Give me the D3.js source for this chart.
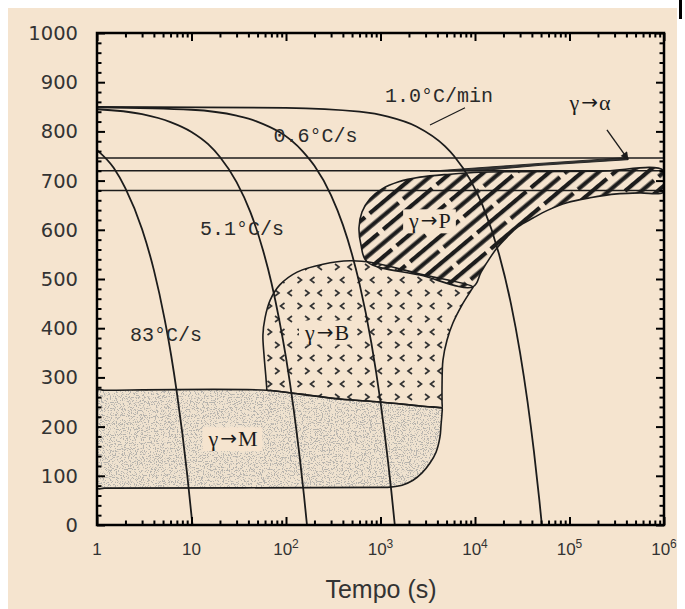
<!DOCTYPE html>
<html>
<head>
<meta charset="utf-8">
<script src="https://cdnjs.cloudflare.com/ajax/libs/d3/7.8.5/d3.min.js"></script>
<style>
  body { margin: 0; background: #fff; }
  svg { display: block; }
</style>
</head>
<body>
<svg width="685" height="609"></svg>
<script>
// cooling curves: [time s, temperature C]
var curve83 = [[1,762],[1.5,726],[2,684],[3,601],[4,518],[5.2,418],[6.1,344],[7,269],[8,186],[9,103],[10.24,0]];
var curve51 = [[1,845],[3,835],[6,819],[10,799],[15,774],[20,748],[30,697],[42,636],[57,559],[70,493],[85,416],[100,340],[120,238],[140,136],[155,60],[166.7,0]];
var curve06 = [[1,849],[10,844],[30,832],[48,821],[151,759],[200,730],[300,670],[400,610],[500,550],[600,490],[800,370],[1000,250],[1200,130],[1300,70],[1417,0]];
var curve1min = [[1,850],[100,848],[600,840],[1200,830],[2400,810],[4800,770],[6000,750],[9000,700],[12000,650],[18000,550],[24000,450],[30000,350],[36000,250],[42000,150],[48000,50],[51000,0]];
// time ranges hidden behind the labels
var labelGaps = [[5.2,6.1],[42,57],[48,151],null];

var curveNames = ["83°C/s","5.1°C/s","0.6°C/s","1.0°C/min"];
var curveLabelPos = [[5.37,374],[34.2,589],[205,779],[4160,860]];

// critical temperatures
var critTemps = [746, 720, 680];

// transformation regions
var regionM = [[1,274],[1.2,274],[63,274],[141,266],[373,256],[988,250],[2620,242],[4350,238.5],[4480,238],[4470,226],[4370,203],[4260,179],[3870,148],[3340,126],[2750,106],[2210,91],[1690,81],[1260,77],[1000,76.5],[1.2,75],[1,75]];
var regionB = [[9520,484],[2620,510],[834,533],[476,537],[246,530],[131,514],[86,488],[68,457],[60,421],[57,386],[58.5,346],[61,305],[62.5,280],[63,274],[70,273.5],[141,266],[373,256],[988,250],[2620,242],[4400,238.2],[4480,238],[4480,250],[4480,285],[4580,335],[5060,376],[5850,411],[7280,447],[9300,480]];
var regionP = [[720,535],[622,569],[592,604],[637,636],[774,663],[1040,683],[1530,697],[2620,707],[5440,713],[11300,717],[29900,718],[210000,719],[1e6,720],[1e6,677],[557000,675],[318000,673],[165000,665],[94100,655],[59200,640],[41100,624],[28500,606],[21800,585],[17100,563],[14400,543],[11600,514],[9520,484],[2620,508]];
var regionA = [[3340,719],[48700,735],[416000,747],[416000,742.5],[48700,731],[11300,720]];

var regionSymbols = ["M","B","P","α"];
var regionLabelPos = [[27.5,160],[272,377],[3340,603],[165000,843]];

var leader1min = [[3340,813],[7840,848]];
var arrowA = [[249000,803],[416000,743]];

var xTicks = [1,10,100,1e3,1e4,1e5,1e6];
var xTickBase = ["1","10","10","10","10","10","10"];
var xTickExp = ["","","2","3","4","5","6"];
var yTicks = [0,100,200,300,400,500,600,700,800,900,1000];

var bg = "#f5e4cf";
var ink = "#1c1c1c";

var svg = d3.select("svg");
var x = d3.scaleLog().domain([1,1e6]).range([97,664]);
var y = d3.scaleLinear().domain([0,1000]).range([525,33]);

svg.append("rect").attr("width",685).attr("height",609).attr("fill","#fff");
svg.append("rect").attr("x",8).attr("y",8).attr("width",669).attr("height",601).attr("fill",bg);
svg.append("rect").attr("x",679).attr("y",0).attr("width",3).attr("height",19).attr("fill","#000");

var defs = svg.append("defs");
defs.append("clipPath").attr("id","plotclip")
  .append("rect").attr("x",97).attr("y",33).attr("width",567).attr("height",492);

// hatch for pearlite
var hatch = defs.append("pattern").attr("id","hatch").attr("patternUnits","userSpaceOnUse")
  .attr("width",21).attr("height",70).attr("patternTransform","rotate(50)");
hatch.append("rect").attr("x",0).attr("y",0).attr("width",4.2).attr("height",64).attr("fill",ink);
hatch.append("rect").attr("x",10.5).attr("y",35).attr("width",4.2).attr("height",64).attr("fill",ink);
hatch.append("rect").attr("x",10.5).attr("y",-35).attr("width",4.2).attr("height",64).attr("fill",ink);

// chevrons for bainite
var chev = defs.append("pattern").attr("id","chev").attr("patternUnits","userSpaceOnUse")
  .attr("width",30).attr("height",26).attr("x",3).attr("y",2);
var chevPaths = ["M2,2 L6,5 L2,8","M19,2 L15,5 L19,8","M11.5,15 L7.5,18 L11.5,21","M24.5,15 L28.5,18 L24.5,21"];
chev.selectAll("path").data(chevPaths).enter().append("path")
  .attr("d",function(d){return d})
  .attr("fill","none").attr("stroke","#333").attr("stroke-width",1.7);

// stipple for martensite
var stip = defs.append("filter").attr("id","stip")
  .attr("x",0).attr("y",0).attr("width",1).attr("height",1);
stip.append("feTurbulence").attr("type","fractalNoise").attr("baseFrequency",0.85)
  .attr("numOctaves",2).attr("seed",5).attr("result","n");
stip.append("feColorMatrix").attr("type","matrix")
  .attr("values","0 0 0 0 0.47  0 0 0 0 0.45  0 0 0 0 0.42  13 0 0 0 -7.1");

var line = d3.line().x(function(d){return x(d[0])}).y(function(d){return y(d[1])});
var region = d3.line().x(function(d){return x(d[0])}).y(function(d){return y(d[1])})
  .curve(d3.curveCatmullRomClosed.alpha(0.5));

defs.append("clipPath").attr("id","mclip").append("path").attr("d",region(regionM));

var plot = svg.append("g").attr("clip-path","url(#plotclip)");

plot.append("path").attr("d",region(regionM)).attr("fill","#efe2cf");
plot.append("g").attr("clip-path","url(#mclip)")
  .append("rect").attr("x",97).attr("y",33).attr("width",567).attr("height",492)
  .attr("fill","#000").attr("filter","url(#stip)");
plot.append("path").attr("d",region(regionB)).attr("fill","url(#chev)");
plot.append("path").attr("d",region(regionP)).attr("fill","url(#hatch)");

// region labels with cleared background
regionSymbols.forEach(function(sym, i){
  var g = plot.append("g");
  var t = g.append("text")
    .attr("x", x(regionLabelPos[i][0])).attr("y", y(regionLabelPos[i][1]))
    .attr("text-anchor","middle")
    .attr("font-family","'Liberation Serif','DejaVu Serif',serif")
    .attr("font-size",22).attr("fill",ink);
  t.append("tspan").text("γ");
  t.append("tspan").attr("font-family","'DejaVu Sans',sans-serif").attr("font-size",20)
    .attr("dx",2).attr("dy",-1).text("→");
  t.append("tspan").attr("dx",1).attr("dy",1).text(sym);
  if (i < 3) {
    var b = t.node().getBBox();
    g.insert("rect","text").attr("x",b.x-5).attr("y",b.y+1)
      .attr("width",b.width+10).attr("height",b.height-1).attr("fill",bg);
  }
});

[regionM, regionB, regionP].forEach(function(r){
  plot.append("path").attr("d",region(r)).attr("fill","none")
    .attr("stroke",ink).attr("stroke-width",1.6);
});
plot.append("path").attr("d",d3.line().x(function(d){return x(d[0])}).y(function(d){return y(d[1])}).curve(d3.curveLinearClosed)(regionA))
  .attr("fill","#333").attr("stroke",ink).attr("stroke-width",0.9);

plot.selectAll(".crit").data(critTemps).enter().append("line")
  .attr("x1",97).attr("x2",664)
  .attr("y1",function(d){return y(d)}).attr("y2",function(d){return y(d)})
  .attr("stroke",ink).attr("stroke-width",1.6);

var curveLine = d3.line().x(function(d){return x(d[0])}).y(function(d){return y(d[1])})
  .curve(d3.curveMonotoneX);
[curve83, curve51, curve06, curve1min].forEach(function(c, i){
  var gap = labelGaps[i];
  curveLine.defined(function(d){ return !gap || d[0] <= gap[0] || d[0] >= gap[1]; });
  plot.append("path").attr("d",curveLine(c)).attr("fill","none")
    .attr("stroke",ink).attr("stroke-width",1.8);
});

plot.append("path").attr("d",line(leader1min)).attr("stroke",ink).attr("stroke-width",1.2).attr("fill","none");

defs.append("marker").attr("id","head").attr("viewBox","0 0 10 10")
  .attr("refX",9).attr("refY",5).attr("markerWidth",10).attr("markerHeight",8)
  .attr("markerUnits","userSpaceOnUse").attr("orient","auto")
  .append("path").attr("d","M0,0 L10,5 L0,10 z").attr("fill",ink);
plot.append("path").attr("d",line(arrowA)).attr("stroke",ink).attr("stroke-width",1.4)
  .attr("fill","none").attr("marker-end","url(#head)");

// curve labels
svg.selectAll(".clabel").data(curveNames).enter().append("text")
  .attr("x",function(d,i){return x(curveLabelPos[i][0])})
  .attr("y",function(d,i){return y(curveLabelPos[i][1])})
  .attr("text-anchor","middle")
  .attr("font-family","'Liberation Mono','Courier New',monospace")
  .attr("font-size",20).attr("fill","#2a2a2a")
  .text(function(d){return d});

// axes frame and ticks
var minorX = x.ticks().filter(function(v){ return xTicks.indexOf(v) < 0; });
var minorY = y.ticks(50).filter(function(v){ return yTicks.indexOf(v) < 0; });

function addAxis(axis, tx, ty){
  var g = svg.append("g").attr("transform","translate("+tx+","+ty+")").call(axis);
  g.select(".domain").remove();
  g.selectAll("text").remove();
  g.selectAll("line").attr("stroke","#000").attr("stroke-width",2);
}
addAxis(d3.axisBottom(x).tickValues(xTicks).tickSize(-8), 0, 525);
addAxis(d3.axisBottom(x).tickValues(minorX).tickSize(-4.5), 0, 525);
addAxis(d3.axisTop(x).tickValues(xTicks).tickSize(-8), 0, 33);
addAxis(d3.axisTop(x).tickValues(minorX).tickSize(-4.5), 0, 33);
addAxis(d3.axisLeft(y).tickValues(yTicks).tickSize(-8), 97, 0);
addAxis(d3.axisLeft(y).tickValues(minorY).tickSize(-4.5), 97, 0);
addAxis(d3.axisRight(y).tickValues(yTicks).tickSize(-8), 664, 0);
addAxis(d3.axisRight(y).tickValues(minorY).tickSize(-4.5), 664, 0);

svg.append("rect").attr("x",97).attr("y",33).attr("width",567).attr("height",492)
  .attr("fill","none").attr("stroke","#000").attr("stroke-width",2.5);

// tick labels
svg.selectAll(".ylab").data(yTicks).enter().append("text")
  .attr("x",78).attr("y",function(d){return y(d)+7})
  .attr("text-anchor","end")
  .attr("font-family","'DejaVu Sans',Verdana,sans-serif")
  .attr("font-size",19.5).attr("fill","#333")
  .text(function(d){return d});

var xl = svg.selectAll(".xlab").data(xTicks).enter().append("text")
  .attr("x",function(d){return x(d)}).attr("y",555)
  .attr("text-anchor","middle")
  .attr("font-family","'Liberation Sans',Arial,sans-serif")
  .attr("font-size",17).attr("fill","#333");
xl.append("tspan").text(function(d,i){return xTickBase[i]});
xl.append("tspan").attr("dy",-7).attr("font-size",12).text(function(d,i){return xTickExp[i]});

svg.append("text").attr("x",381).attr("y",598).attr("text-anchor","middle")
  .attr("font-family","'Liberation Sans',Arial,sans-serif")
  .attr("font-size",25).attr("fill","#333")
  .text("Tempo (s)");
</script>
</body>
</html>
